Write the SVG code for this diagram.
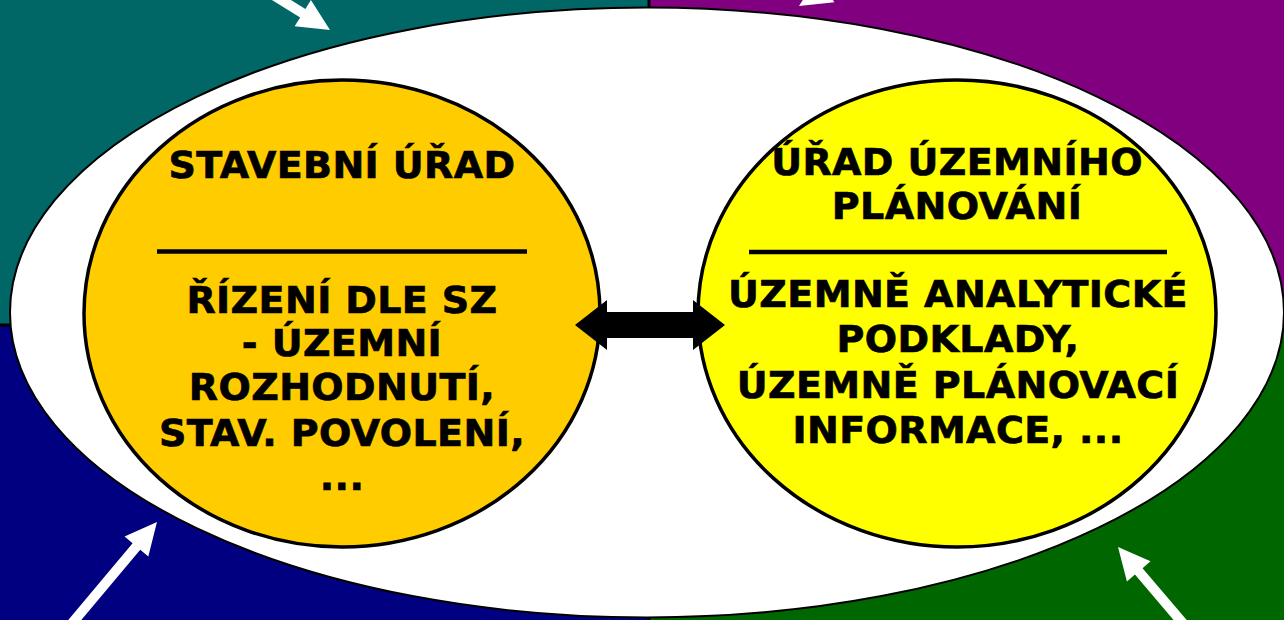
<svg xmlns="http://www.w3.org/2000/svg" width="1284" height="620" viewBox="0 0 1284 620">
<style>
.t{font-family:"DejaVu Sans","Verdana",sans-serif;font-weight:bold;font-size:38px;fill:#000;stroke:#000;stroke-width:0.7;letter-spacing:0.4px;text-anchor:middle}
.circ{stroke:#000;stroke-width:3.5}
.sep{stroke:#000;stroke-width:4.5}
.warrow{fill:#fff}
</style>
<defs>
<polygon id="wa" points="0,0 -32,-15.5 -32,-5 -200,-5 -200,5 -32,5 -32,15.5"/>
</defs>
<g id="background">
<rect x="0" y="0" width="649" height="325" fill="#006666"/>
<rect x="649" y="0" width="635" height="325" fill="#800080"/>
<rect x="0" y="325" width="649" height="295" fill="#000080"/>
<rect x="649" y="325" width="635" height="295" fill="#006600"/>
<line x1="649" y1="0" x2="649" y2="620" stroke="#000" stroke-width="3"/>
<line x1="0" y1="325" x2="1284" y2="325" stroke="#000" stroke-width="3"/>
</g>
<g id="outer-arrows">
<use href="#wa" class="warrow" transform="translate(330,30) rotate(31.7)"/>
<use href="#wa" class="warrow" transform="translate(799,6) rotate(148.3)"/>
<use href="#wa" class="warrow" transform="translate(157,522) rotate(-50)"/>
<use href="#wa" class="warrow" transform="translate(1118,547) rotate(-130.4)"/>
</g>
<g id="outer-ellipse">
<ellipse cx="647" cy="312.5" rx="637" ry="305" fill="#fff" stroke="#000" stroke-width="2"/>
</g>
<g id="node-stavebni-urad">
<ellipse class="circ" cx="342" cy="313.5" rx="258" ry="233.5" fill="#FFCC00"/>
<text class="t" x="342" y="178">STAVEBNÍ ÚŘAD</text>
<line class="sep" x1="157" y1="251.5" x2="527" y2="251.5"/>
<text class="t" x="342" y="313">ŘÍZENÍ DLE SZ</text>
<text class="t" x="342" y="356">- ÚZEMNÍ</text>
<text class="t" x="342" y="400">ROZHODNUTÍ,</text>
<text class="t" x="342" y="446">STAV. POVOLENÍ,</text>
<text class="t" x="342" y="490">...</text>
</g>
<g id="node-urad-uzemniho-planovani">
<ellipse class="circ" cx="957" cy="313.5" rx="259" ry="233.5" fill="#FFFF00"/>
<text class="t" x="957" y="175">ÚŘAD ÚZEMNÍHO</text>
<text class="t" x="957" y="219">PLÁNOVÁNÍ</text>
<line class="sep" x1="749" y1="252" x2="1167" y2="252"/>
<text class="t" x="958" y="307">ÚZEMNĚ ANALYTICKÉ</text>
<text class="t" x="958" y="352">PODKLADY,</text>
<text class="t" x="958" y="398">ÚZEMNĚ PLÁNOVACÍ</text>
<text class="t" x="958" y="443">INFORMACE, ...</text>
</g>
<g id="connectors">
<polygon points="575,325 607,300 607,312 693,312 693,300 725,325 693,350 693,338 607,338 607,350" fill="#000"/>
</g>
</svg>
